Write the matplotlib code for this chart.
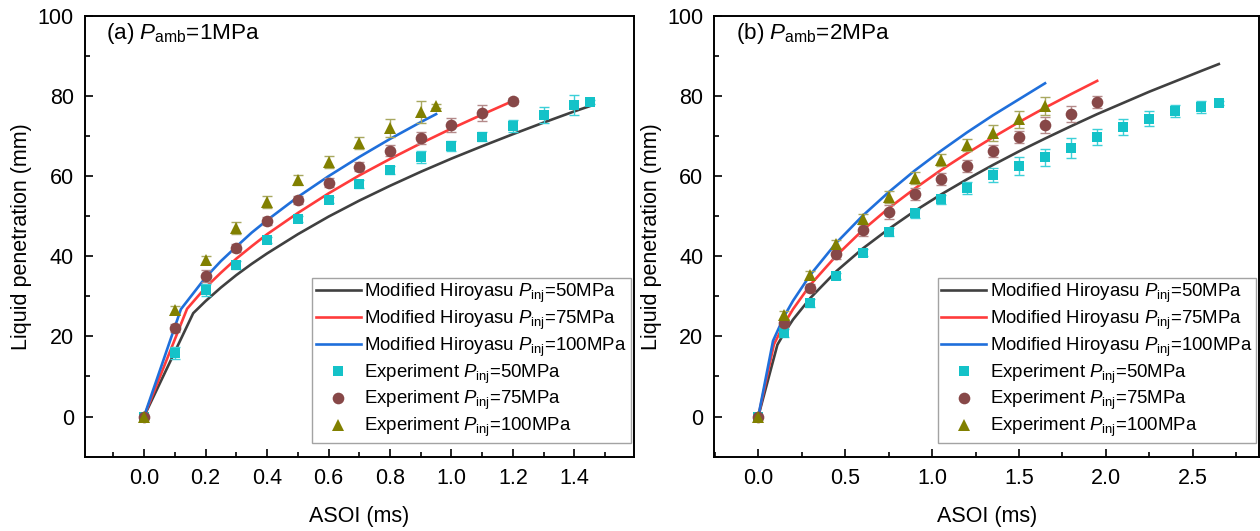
import matplotlib
matplotlib.use("Agg")
import matplotlib.pyplot as plt
from matplotlib.ticker import MultipleLocator

plt.rcParams['font.family'] = ['Liberation Sans', 'DejaVu Sans']
plt.rcParams['mathtext.fontset'] = 'custom'
plt.rcParams['mathtext.rm'] = 'Liberation Sans'
plt.rcParams['mathtext.it'] = 'Liberation Sans:italic'
plt.rcParams['mathtext.bf'] = 'Liberation Sans:bold'

# ---------------- data: panel (a) Pamb = 1 MPa ----------------
a_line50_x = [0, 0.16, 0.2, 0.25, 0.3, 0.35, 0.4, 0.5, 0.6, 0.7, 0.8, 0.9, 1.0, 1.1, 1.2, 1.3, 1.4, 1.45]
a_line50_y = [0, 25.8, 28.8, 32.2, 35.3, 38.1, 40.7, 45.5, 49.9, 53.9, 57.6, 61.1, 64.4, 67.5, 70.5, 73.4, 76.2, 77.5]
a_line75_x = [0, 0.14, 0.2, 0.25, 0.3, 0.35, 0.4, 0.5, 0.6, 0.7, 0.8, 0.9, 1.0, 1.1, 1.2]
a_line75_y = [0, 26.9, 32.2, 35.9, 39.4, 42.5, 45.5, 50.8, 55.7, 60.2, 64.3, 68.2, 71.9, 75.4, 78.8]
a_line100_x = [0, 0.12, 0.2, 0.25, 0.3, 0.35, 0.4, 0.5, 0.6, 0.7, 0.8, 0.9, 0.95]
a_line100_y = [0, 26.8, 34.7, 38.8, 42.4, 45.9, 49.0, 54.8, 60.0, 64.8, 69.3, 73.5, 75.5]

a_exp50_x = [0, 0.1, 0.2, 0.3, 0.4, 0.5, 0.6, 0.7, 0.8, 0.9, 1.0, 1.1, 1.2, 1.3, 1.4, 1.45]
a_exp50_y = [0, 15.9, 31.6, 37.8, 44.1, 49.3, 54.0, 58.0, 61.5, 64.7, 67.6, 69.9, 72.5, 75.4, 77.7, 78.5]
a_exp50_e = [0, 1.5, 1.5, 1.0, 0.8, 0.8, 0.8, 1.0, 1.0, 1.5, 1.2, 1.2, 1.5, 2.0, 2.5, 0.5]
a_exp75_x = [0, 0.1, 0.2, 0.3, 0.4, 0.5, 0.6, 0.7, 0.8, 0.9, 1.0, 1.1, 1.2]
a_exp75_y = [0, 22.2, 35.2, 42.1, 48.9, 54.0, 58.4, 62.4, 66.4, 69.6, 72.8, 75.7, 78.8]
a_exp75_e = [0, 1.0, 1.5, 1.0, 1.0, 1.0, 1.2, 1.2, 1.3, 1.5, 1.8, 2.0, 0.8]
a_exp100_x = [0, 0.1, 0.2, 0.3, 0.4, 0.5, 0.6, 0.7, 0.8, 0.9, 0.95]
a_exp100_y = [0, 26.7, 39.2, 47.0, 53.6, 59.0, 63.6, 68.2, 72.1, 76.1, 77.5]
a_exp100_e = [0, 1.0, 1.0, 1.5, 1.5, 1.2, 1.5, 1.5, 2.3, 2.8, 0.5]

# ---------------- data: panel (b) Pamb = 2 MPa ----------------
b_line50_x = [0, 0.11, 0.15, 0.2, 0.3, 0.45, 0.6, 0.75, 0.9, 1.05, 1.2, 1.35, 1.5, 1.65, 1.8, 1.95, 2.1, 2.25, 2.4, 2.55, 2.65]
b_line50_y = [0, 17.9, 20.9, 24.2, 29.6, 36.3, 41.9, 46.8, 51.3, 55.4, 59.2, 62.8, 66.2, 69.4, 72.5, 75.5, 78.3, 81.1, 83.7, 86.3, 88.0]
b_line75_x = [0, 0.09, 0.15, 0.2, 0.3, 0.45, 0.6, 0.75, 0.9, 1.05, 1.2, 1.35, 1.5, 1.65, 1.8, 1.95]
b_line75_y = [0, 18.0, 23.2, 26.8, 32.9, 40.2, 46.5, 52.0, 56.9, 61.5, 65.7, 69.7, 73.5, 77.1, 80.5, 83.8]
b_line100_x = [0, 0.085, 0.15, 0.2, 0.3, 0.45, 0.6, 0.75, 0.9, 1.05, 1.2, 1.35, 1.5, 1.65]
b_line100_y = [0, 18.9, 25.1, 28.9, 35.4, 43.4, 50.1, 56.0, 61.4, 66.3, 70.9, 75.2, 79.2, 83.2]

b_exp50_x = [0, 0.15, 0.3, 0.45, 0.6, 0.75, 0.9, 1.05, 1.2, 1.35, 1.5, 1.65, 1.8, 1.95, 2.1, 2.25, 2.4, 2.55, 2.65]
b_exp50_y = [0, 20.9, 28.3, 35.1, 40.9, 46.0, 50.7, 54.2, 57.0, 60.3, 62.5, 64.7, 67.1, 69.7, 72.3, 74.4, 76.3, 77.3, 78.3]
b_exp50_e = [0, 1.0, 1.0, 0.8, 0.8, 1.0, 1.2, 1.2, 1.5, 1.8, 2.2, 2.2, 2.5, 2.0, 2.0, 1.8, 1.5, 1.5, 0.5]
b_exp75_x = [0, 0.15, 0.3, 0.45, 0.6, 0.75, 0.9, 1.05, 1.2, 1.35, 1.5, 1.65, 1.8, 1.95]
b_exp75_y = [0, 23.3, 32.2, 40.6, 46.6, 51.1, 55.5, 59.2, 62.5, 66.3, 69.9, 72.7, 75.5, 78.6]
b_exp75_e = [0, 1.0, 1.0, 1.2, 1.5, 1.8, 1.5, 1.5, 1.5, 1.5, 1.5, 2.0, 2.0, 1.5]
b_exp100_x = [0, 0.15, 0.3, 0.45, 0.6, 0.75, 0.9, 1.05, 1.2, 1.35, 1.5, 1.65]
b_exp100_y = [0, 25.3, 35.3, 43.0, 49.3, 54.9, 59.6, 64.0, 67.9, 70.8, 74.2, 77.6]
b_exp100_e = [0, 1.0, 1.0, 1.0, 1.2, 1.5, 1.5, 1.5, 1.5, 2.0, 2.2, 2.2]

line_labels = [r'Modified Hiroyasu $P_{\mathrm{inj}}$=50MPa',
               r'Modified Hiroyasu $P_{\mathrm{inj}}$=75MPa',
               r'Modified Hiroyasu $P_{\mathrm{inj}}$=100MPa']
exp_labels = [r'Experiment $P_{\mathrm{inj}}$=50MPa',
              r'Experiment $P_{\mathrm{inj}}$=75MPa',
              r'Experiment $P_{\mathrm{inj}}$=100MPa']
line_colors = ['#404040', '#FF3B3B', '#1F6FDB']
exp_colors = ['#14C2C8', '#874848', '#818000']
err_colors = ['#3CD0D8', '#B48A8A', '#A8A860']
exp_markers = ['s', 'o', '^']
exp_msizes = [7.8, 8.4, 9.2]

fig = plt.figure(figsize=(12.6, 5.31), dpi=100)
axA = fig.add_axes([0.06746, 0.13898, 0.43556, 0.83089])
axB = fig.add_axes([0.5669, 0.13898, 0.4327, 0.83089])

panels = [
    (axA, [(a_line50_x, a_line50_y), (a_line75_x, a_line75_y), (a_line100_x, a_line100_y)],
     [(a_exp50_x, a_exp50_y, a_exp50_e), (a_exp75_x, a_exp75_y, a_exp75_e), (a_exp100_x, a_exp100_y, a_exp100_e)],
     (-0.192, 1.593), 0.2, 0.1, r'(a) $P_{\mathrm{amb}}$=1MPa'),
    (axB, [(b_line50_x, b_line50_y), (b_line75_x, b_line75_y), (b_line100_x, b_line100_y)],
     [(b_exp50_x, b_exp50_y, b_exp50_e), (b_exp75_x, b_exp75_y, b_exp75_e), (b_exp100_x, b_exp100_y, b_exp100_e)],
     (-0.253, 2.884), 0.5, 0.25, r'(b) $P_{\mathrm{amb}}$=2MPa'),
]

for ax, lines, exps, xlim, xmaj, xmin, title in panels:
    handles = []
    for (lx, ly), c, lab in zip(lines, line_colors, line_labels):
        h, = ax.plot(lx, ly, color=c, lw=1.9, label=lab, zorder=2)
        handles.append(h)
    for (ex, ey, ee), c, ec, m, ms, lab in zip(exps, exp_colors, err_colors, exp_markers, exp_msizes, exp_labels):
        ax.errorbar(ex, ey, yerr=ee, fmt='none', ecolor=ec, elinewidth=1.0,
                    capsize=3.5, capthick=1.0, zorder=3)
        h, = ax.plot(ex, ey, linestyle='none', marker=m, color=c, markersize=ms,
                     markeredgewidth=0, label=lab, zorder=4)
        handles.append(h)
    ax.set_xlim(*xlim)
    ax.set_ylim(-10.16, 100)
    ax.xaxis.set_major_locator(MultipleLocator(xmaj))
    ax.xaxis.set_minor_locator(MultipleLocator(xmin))
    ax.yaxis.set_major_locator(MultipleLocator(20))
    ax.yaxis.set_minor_locator(MultipleLocator(10))
    ax.tick_params(which='both', direction='in', top=False, right=False,
                   labelsize=15.5, width=1.2, pad=8)
    ax.tick_params(which='major', length=5.5)
    ax.tick_params(which='minor', length=3.5)
    for sp in ax.spines.values():
        sp.set_linewidth(1.4)
    ax.set_xlabel('ASOI (ms)', fontsize=15.5, labelpad=12)
    ax.set_ylabel('Liquid penetration (mm)', fontsize=15.5, labelpad=4)
    ax.text(0.039, 0.961, title, transform=ax.transAxes, fontsize=16.2,
            ha='left', va='center')
    leg = ax.legend(handles=handles, loc='lower right', bbox_to_anchor=(0.994, 0.032),
                    borderaxespad=0, fontsize=13.4, frameon=True, fancybox=False,
                    handlelength=2.42, handletextpad=0.2, labelspacing=0.2,
                    borderpad=0.2, edgecolor='#8c8c8c')
    leg.get_frame().set_linewidth(1.0)

fig.savefig('out.png', dpi=100)
